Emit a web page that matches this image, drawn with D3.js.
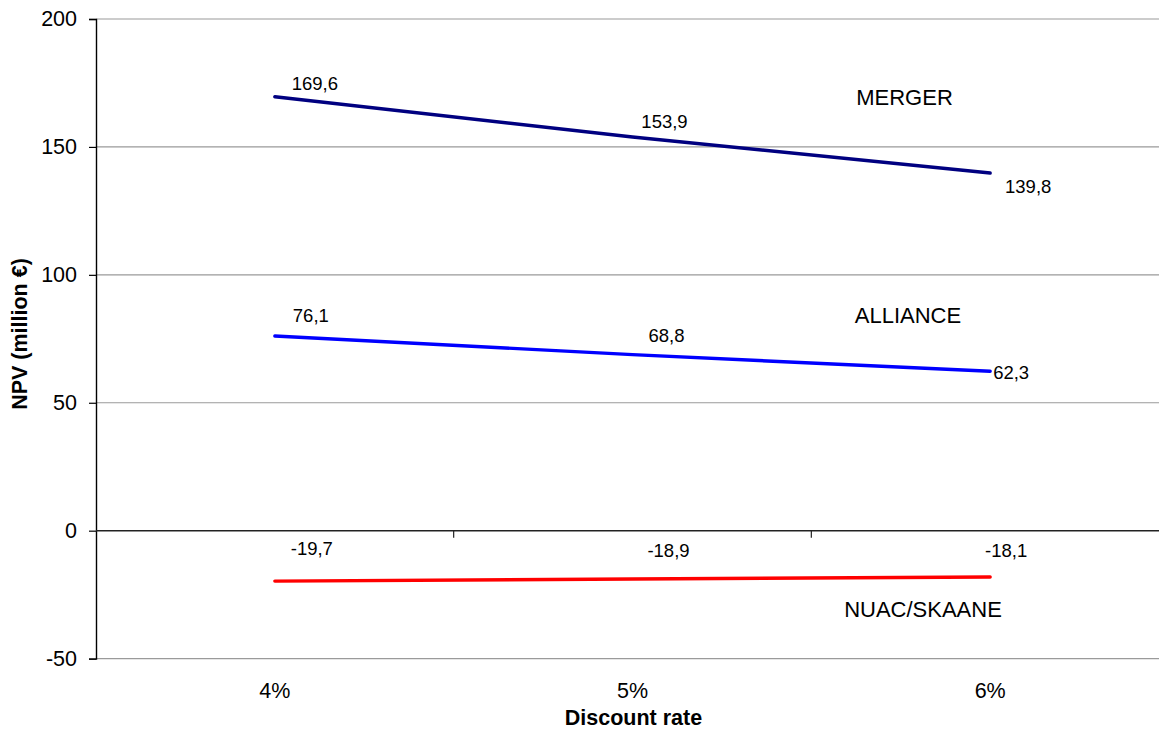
<!DOCTYPE html>
<html>
<head>
<meta charset="utf-8">
<script src="https://cdn.jsdelivr.net/npm/d3@7"></script>
<style>
  html, body { margin: 0; padding: 0; background: #fff; }
  svg { display: block; font-family: "Liberation Sans", Arial, sans-serif; }
</style>
</head>
<body>
<div id="chart"></div>
<script>
// Discount rates on the horizontal axis
const categories = ["4%", "5%", "6%"];

// NPV per scenario, million €
const mergerValues   = [169.6, 153.9, 139.8];
const allianceValues = [76.1, 68.8, 62.3];
const nuacValues     = [-19.7, -18.9, -18.1];

const seriesNames  = ["MERGER", "ALLIANCE", "NUAC/SKAANE"];
const seriesColors = ["#000080", "#0000FF", "#FF0000"];

const yTicks = [-50, 0, 50, 100, 150, 200];

// Decimal comma and a plain hyphen for negatives
const locale = d3.formatLocale({
  decimal: ",", thousands: " ", grouping: [3], currency: ["", " €"], minus: "-"
});
const fmt = locale.format(".1f");
const fmtInt = locale.format("d");

const W = 1159, H = 729;
const plot = { left: 96, right: 1169, top: 19, bottom: 658.6 };

const svg = d3.select("#chart").append("svg")
  .attr("width", W).attr("height", H)
  .style("overflow", "hidden");

const x = d3.scaleBand().domain(categories).range([plot.left, plot.right]);
const y = d3.scaleLinear().domain([-50, 200]).range([plot.bottom, plot.top]);
const cx = c => x(c) + x.bandwidth() / 2;

// Horizontal gridlines
svg.append("g").selectAll("line")
  .data(yTicks.filter(t => t !== 0))
  .join("line")
  .attr("x1", plot.left).attr("x2", plot.right)
  .attr("y1", d => y(d)).attr("y2", d => y(d))
  .attr("stroke", "#9a9a9a").attr("stroke-width", 1.2);

// Y axis
const yAxis = svg.append("g")
  .attr("transform", `translate(${plot.left},0)`)
  .call(d3.axisLeft(y).tickValues(yTicks).tickSize(7).tickPadding(12).tickFormat(fmtInt));
yAxis.select(".domain").attr("stroke", "#000").attr("stroke-width", 1.4);
yAxis.selectAll(".tick line").attr("stroke", "#000").attr("stroke-width", 1.2);
yAxis.selectAll(".tick text")
  .attr("fill", "#000").style("font-size", "21.5px")
  .style("font-family", "'Liberation Sans', Arial, sans-serif");

// Category axis along zero, ticks at the band boundaries
const boundaries = categories.slice(1).map(c => x(c));
const xg = svg.append("g");
xg.append("line")
  .attr("x1", plot.left).attr("x2", plot.right)
  .attr("y1", y(0)).attr("y2", y(0))
  .attr("stroke", "#222").attr("stroke-width", 1.4);
xg.selectAll("line.tk").data(boundaries).join("line")
  .attr("class", "tk")
  .attr("x1", d => d).attr("x2", d => d)
  .attr("y1", y(0)).attr("y2", y(0) + 7)
  .attr("stroke", "#222").attr("stroke-width", 1.2);

// Category labels below the plot
svg.append("g").selectAll("text")
  .data(categories).join("text")
  .attr("x", d => cx(d)).attr("y", 698)
  .attr("text-anchor", "middle")
  .style("font-size", "21.5px")
  .text(d => d);

// Axis titles
svg.append("text")
  .attr("x", 633.5).attr("y", 725)
  .attr("text-anchor", "middle")
  .style("font-size", "21.5px").style("font-weight", "bold")
  .text("Discount rate");

svg.append("text")
  .attr("transform", "translate(27,334) rotate(-90)")
  .attr("text-anchor", "middle")
  .style("font-size", "21.5px").style("font-weight", "bold")
  .text("NPV (million €)");

// Series lines
const series = [mergerValues, allianceValues, nuacValues];
const line = d3.line().x((d, i) => cx(categories[i])).y(d => y(d));

svg.append("g").selectAll("path")
  .data(series).join("path")
  .attr("d", d => line(d))
  .attr("fill", "none")
  .attr("stroke", (d, i) => seriesColors[i])
  .attr("stroke-width", 3.4)
  .attr("stroke-linecap", "round");

// Data label placement relative to each point (dx to text centre, dy to baseline)
const labelDx = [[40, 32, 38], [36, 34, 21], [37, 36, 16]];
const labelDy = [[-7, -9, 20], [-14, -13, 8], [-26, -22, -20]];

const labels = svg.append("g");
series.forEach((vals, s) => {
  vals.forEach((v, i) => {
    labels.append("text")
      .attr("x", cx(categories[i]) + labelDx[s][i])
      .attr("y", y(v) + labelDy[s][i])
      .attr("text-anchor", "middle")
      .style("font-size", "18.5px")
      .text(fmt(v));
  });
});

// Series names written beside the lines
const nameX = [904.5, 908, 923];
const nameY = [105, 323, 617];
svg.append("g").selectAll("text")
  .data(seriesNames).join("text")
  .attr("x", (d, i) => nameX[i]).attr("y", (d, i) => nameY[i])
  .attr("text-anchor", "middle")
  .style("font-size", "22px")
  .text(d => d);
</script>
</body>
</html>
